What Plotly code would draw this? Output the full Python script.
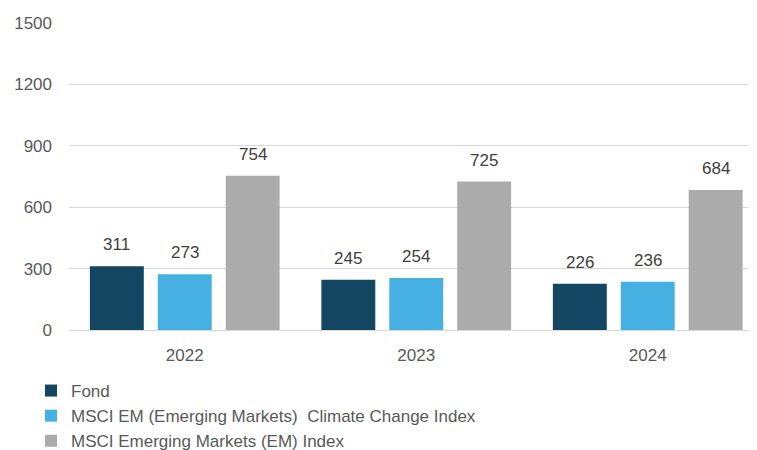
import plotly.graph_objects as go

years = ["2022", "2023", "2024"]
fond = [311, 245, 226]
climate = [273, 254, 236]
em_index = [754, 725, 684]
series_names = ["Fond", "MSCI EM (Emerging Markets)  Climate Change Index", "MSCI Emerging Markets (EM) Index"]
colors = ["#134660", "#45B0E1", "#ABABAB"]
y_ticks = [0, 300, 600, 900, 1200, 1500]

FONT = "Liberation Sans, Arial"
BARGAP = 0.12
BARGROUPGAP = 0.206
PLOT_W = 688
X_RANGE = [-0.5, 2.472]
cat_px = PLOT_W / (X_RANGE[1] - X_RANGE[0])
slot_px = cat_px * (1 - BARGAP) / 3

fig = go.Figure()
all_series = [fond, climate, em_index]
for i, (name, vals, col) in enumerate(zip(series_names, all_series, colors)):
    fig.add_trace(go.Bar(
        x=years, y=vals, name=name, legendgroup=f"g{i}",
        marker=dict(color=col, line=dict(width=0)),
    ))
    for j, v in enumerate(vals):
        fig.add_annotation(
            x=j, y=v, xref="x", yref="y", text=str(v), showarrow=False,
            xanchor="center", yanchor="bottom", xshift=(i - 1) * slot_px, yshift=10,
            font=dict(family=FONT, size=17, color="#404040"),
        )

fig.update_layout(
    width=757, height=450,
    margin=dict(l=61, r=8, t=15, b=128, autoexpand=False),
    paper_bgcolor="white", plot_bgcolor="white",
    barmode="group", bargap=BARGAP, bargroupgap=BARGROUPGAP,
    font=dict(family=FONT, size=17, color="#595959"),
    showlegend=True,
    legend=dict(
        orientation="v", xref="container", yref="container",
        x=23/757, y=1-365/450, xanchor="left", yanchor="top",
        font=dict(family=FONT, size=17, color="#595959"), tracegroupgap=0,
        itemwidth=30, bgcolor="rgba(0,0,0,0)",
    ),
)
fig.update_xaxes(type="category", range=X_RANGE, showgrid=False,
                 showline=False, ticks="", ticklabelstandoff=13,
                 tickfont=dict(family=FONT, size=17, color="#595959"))
fig.update_yaxes(range=[0, 1500], tickvals=y_ticks, showgrid=True, gridcolor="#D9D9D9",
                 gridwidth=1, zeroline=True, zerolinecolor="#D9D9D9", zerolinewidth=1,
                 showline=False, ticks="", ticklabelstandoff=16,
                 tickfont=dict(family=FONT, size=17, color="#595959"))

fig.write_html("out.html")
